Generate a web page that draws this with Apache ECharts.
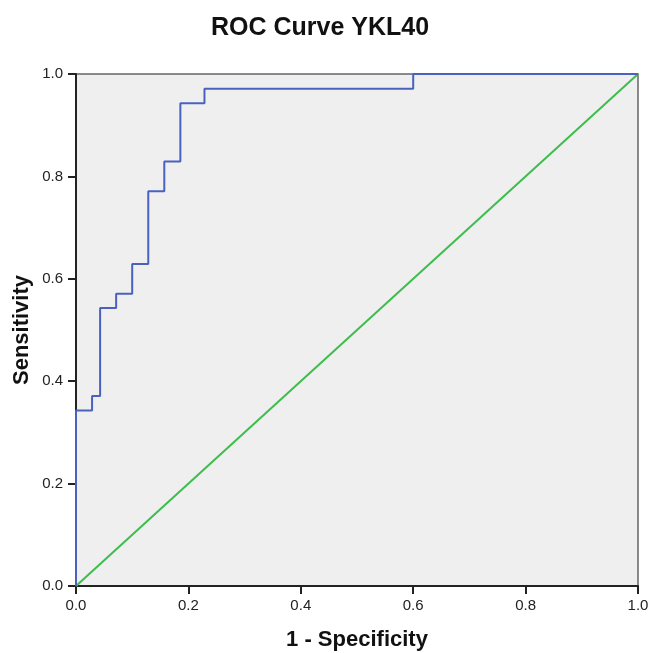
<!DOCTYPE html>
<html>
<head>
<meta charset="utf-8">
<script src="https://cdn.jsdelivr.net/npm/echarts@6/dist/echarts.min.js"></script>
<style>html,body{margin:0;padding:0;background:#fff;overflow:hidden}#c{width:651px;height:653px}</style>
</head>
<body>
<div id="c"></div>
<script>
var title = 'ROC Curve YKL40';
var xName = '1 - Specificity';
var yName = 'Sensitivity';
// ROC curve points (1 - specificity, sensitivity)
var rocFpr = [0, 0, 0.0286, 0.0286, 0.0429, 0.0429, 0.0714, 0.0714, 0.1, 0.1, 0.1286, 0.1286, 0.1571, 0.1571, 0.1857, 0.1857, 0.2286, 0.2286, 0.6, 0.6, 1];
var rocTpr = [0, 0.343, 0.343, 0.371, 0.371, 0.543, 0.543, 0.571, 0.571, 0.629, 0.629, 0.771, 0.771, 0.829, 0.829, 0.943, 0.943, 0.971, 0.971, 1, 1];
// reference line
var refX = [0, 1];
var refY = [0, 1];

var rocData = rocFpr.map(function (x, i) { return [x, rocTpr[i]]; });
var refData = refX.map(function (x, i) { return [x, refY[i]]; });

var chart = echarts.init(document.getElementById('c'), null, {renderer: 'canvas', width: 651, height: 653});
var font = 'Arial, "Liberation Sans", sans-serif';
chart.setOption({
  animation: false,
  title: {
    text: title, left: 315, textAlign: 'center', top: 11,
    textStyle: {fontFamily: font, fontSize: 25, fontWeight: 'bold', color: '#111'}
  },
  grid: {
    left: 76, right: 13, top: 74, bottom: 67,
    containLabel: false, outerBoundsMode: 'none',
    show: true, backgroundColor: '#efefef', borderColor: '#666', borderWidth: 1.5
  },
  xAxis: {
    type: 'value', min: 0, max: 1, interval: 0.2,
    name: xName, nameLocation: 'middle', nameGap: 43, nameMoveOverlap: false,
    nameTextStyle: {fontFamily: font, fontSize: 22, fontWeight: 'bold', color: '#111'},
    axisLine: {onZero: false, lineStyle: {color: '#222', width: 2}},
    axisTick: {show: true, inside: false, length: 8, lineStyle: {color: '#222', width: 2}},
    axisLabel: {fontFamily: font, fontSize: 15, color: '#222', margin: 12,
      formatter: function (v) { return v.toFixed(1); }},
    splitLine: {show: false}
  },
  yAxis: {
    type: 'value', min: 0, max: 1, interval: 0.2,
    name: yName, nameLocation: 'middle', nameGap: 43, nameMoveOverlap: false,
    nameTextStyle: {fontFamily: font, fontSize: 22, fontWeight: 'bold', color: '#111'},
    axisLine: {onZero: false, lineStyle: {color: '#222', width: 2}},
    axisTick: {show: true, inside: false, length: 8, lineStyle: {color: '#222', width: 2}},
    axisLabel: {fontFamily: font, fontSize: 15, color: '#222', margin: 13,
      formatter: function (v) { return v.toFixed(1); }},
    splitLine: {show: false}
  },
  series: [
    {
      type: 'line', data: refData, showSymbol: false, silent: true,
      lineStyle: {color: '#3dbd4c', width: 2}
    },
    {
      type: 'line', data: rocData, showSymbol: false, silent: true,
      lineStyle: {color: '#4a62be', width: 2}
    }
  ]
});
</script>
</body>
</html>
